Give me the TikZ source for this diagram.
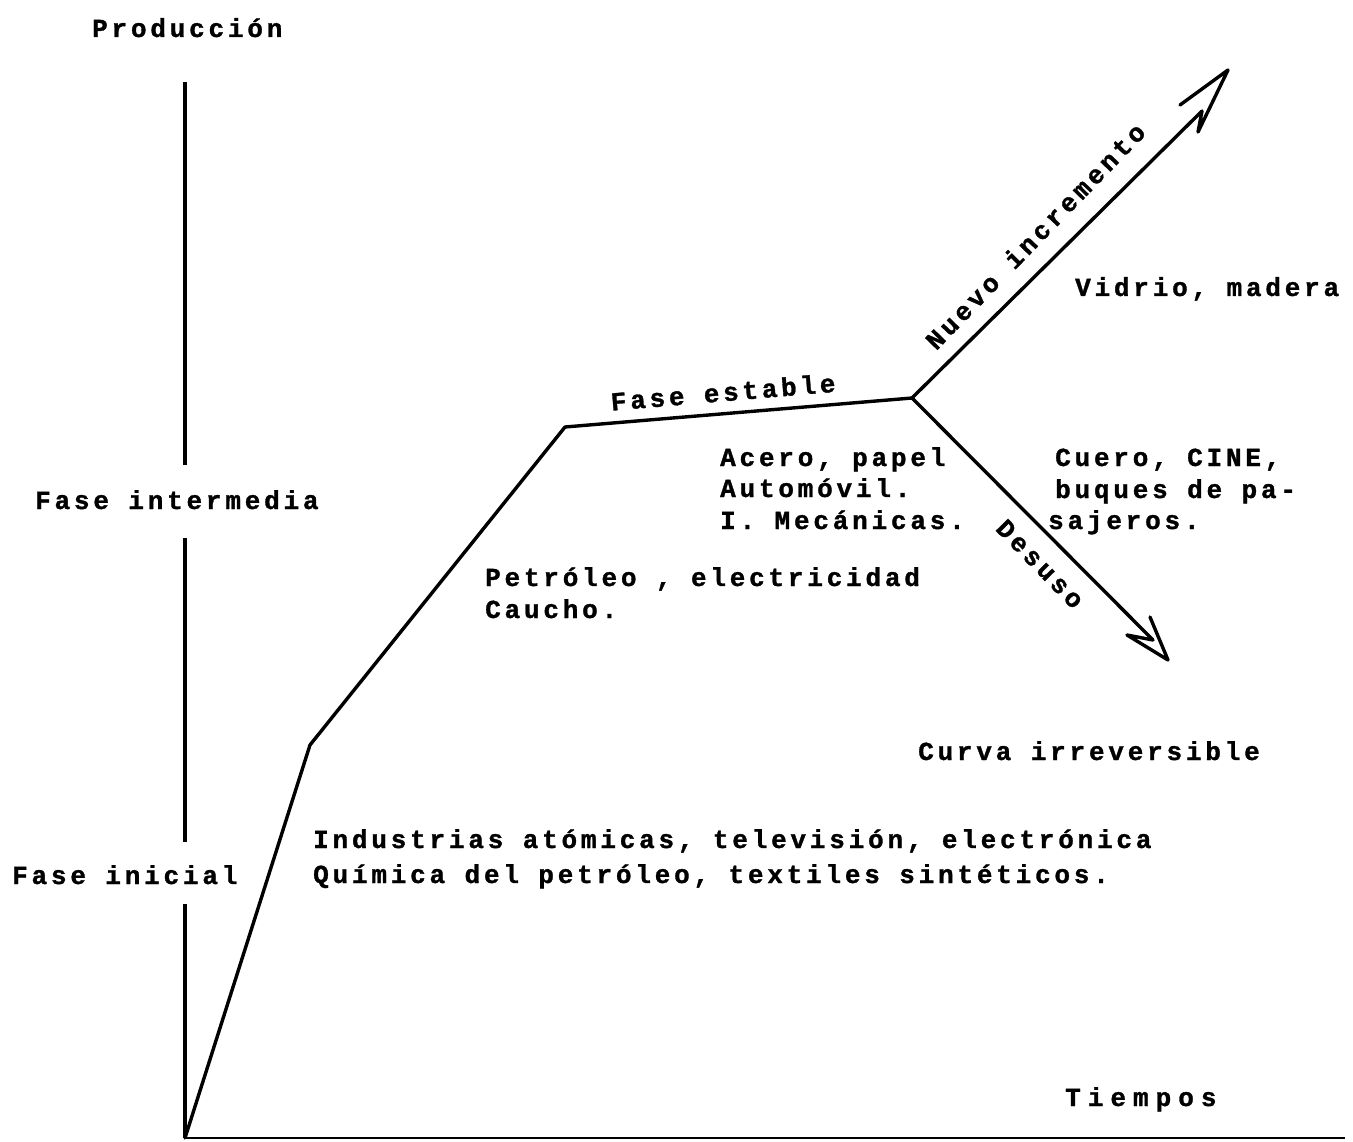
\documentclass[tikz,border=0pt]{standalone}
\usepackage{fontspec}
\newfontfamily\tw[LetterSpace=14.6,FakeBold=1.2]{Liberation Mono}
\begin{document}
\begin{tikzpicture}[x=1pt,y=-1pt,
  txt/.style={font=\tw\bfseries\fontsize{26}{32}\selectfont, inner sep=0pt, anchor=base west},
  rtxt/.style={font=\tw\bfseries\fontsize{26}{32}\selectfont, inner sep=0pt},
  axis/.style={line width=3.2pt},
  curve/.style={line width=3.4pt, line join=round, line cap=round},
  tip/.style={line width=3.4pt, line join=round, line cap=round}]
\useasboundingbox (0,0) rectangle (1353,1142);

% axes
\coordinate (origin) at (185,1138);
\coordinate (xend) at (1345,1138);
\coordinate (ya1) at (185,82);   \coordinate (yb1) at (185,465);
\coordinate (ya2) at (185,538);  \coordinate (yb2) at (185,842);
\coordinate (ya3) at (185,904);
\draw[axis] (ya1) -- (yb1);
\draw[axis] (ya2) -- (yb2);
\draw[axis] (ya3) -- (origin);
\draw[line width=2.2pt] (origin) -- (xend);

% growth curve
\coordinate (k1) at (310,745);
\coordinate (k2) at (565,427);
\coordinate (fork) at (912,398);
\draw[curve] (origin) -- (k1) -- (k2) -- (fork);

% upward branch with hand-drawn head
\coordinate (upend) at (1202,111);
\coordinate (upnotch) at (1198,132);
\coordinate (uptip) at (1228,70);
\coordinate (upwing) at (1180,105);
\draw[curve] (fork) -- (upend);
\draw[tip] (upend) -- (upnotch) -- (uptip) -- (upwing);

% downward branch with hand-drawn head
\coordinate (dnend) at (1153,640);
\coordinate (dnnotch) at (1127,635);
\coordinate (dntip) at (1168,660);
\coordinate (dnwing) at (1150,617);
\draw[curve] (fork) -- (dnend);
\draw[tip] (dnend) -- (dnnotch) -- (dntip) -- (dnwing);

% axis labels
\node[txt] (prod) at (92,37) {Producción};
\node[txt] (finter) at (35,509) {Fase intermedia};
\node[txt] (finic) at (12,884) {Fase inicial};
\node[txt, font=\tw\bfseries\fontsize{26}{32}\selectfont\addfontfeatures{LetterSpace=27}] (tiempos) at (1065,1106) {Tiempos};

% branch labels
\node[rtxt, rotate=4.8] (festable) at (723,392) {Fase estable};
\node[rtxt, rotate=45.9] (nuevo) at (1035,236) {Nuevo incremento};
\node[rtxt, rotate=-45.7] (desuso) at (1040,564) {Desuso};

% industries
\node[txt] (ind1) at (313,848) {Industrias atómicas, televisión, electrónica};
\node[txt] (ind2) at (313,883) {Química del petróleo, textiles sintéticos.};
\node[txt] (pet1) at (485,586) {Petróleo , electricidad};
\node[txt] (pet2) at (485,618) {Caucho.};
\node[txt] (ace1) at (720,466) {Acero, papel};
\node[txt] (ace2) at (720,497) {Automóvil.};
\node[txt] (ace3) at (720,529) {I. Mecánicas.};
\node[txt] (cue1) at (1055,466) {Cuero, CINE,};
\node[txt] (cue2) at (1055,498) {buques de pa-};
\node[txt] (cue3) at (1048,529) {sajeros.};
\node[txt] (vid) at (1075,296) {Vidrio, madera};
\node[txt] (curva) at (918,760) {Curva irreversible};
\end{tikzpicture}
\end{document}
